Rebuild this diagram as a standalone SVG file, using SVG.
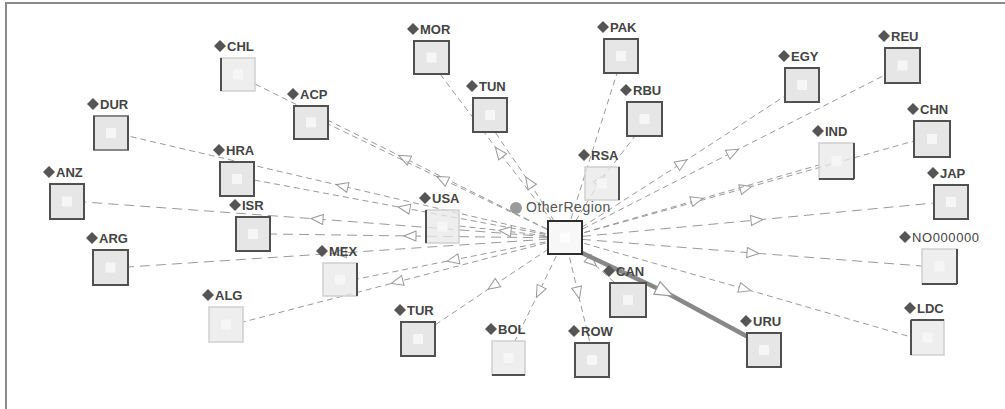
<svg xmlns="http://www.w3.org/2000/svg" width="1005" height="409" viewBox="0 0 1005 409">
<style>
.frame{fill:#fff;stroke:#8a8a8a;stroke-width:2}
.e{fill:none;stroke:#9a9a9a;stroke-width:1;stroke-dasharray:6 4;marker-mid:url(#arr)}
.e2{fill:none;stroke:#9a9a9a;stroke-width:1;stroke-dasharray:10 6;marker-mid:url(#arr)}
.thick{fill:none;stroke:#888;stroke-width:4.5;marker-mid:url(#arrB)}
.box{fill:#e6e6e6;stroke:#505050;stroke-width:2}
.lbox{fill:#e8e8e8;fill-opacity:0.75;stroke:#cfcfcf;stroke-width:1.5}
.dk{stroke:#505050;stroke-width:2}
.in{fill:#f6f6f6}
.dia{fill:#555}
.lab{font-family:"Liberation Sans",Arial,sans-serif;font-size:13px;font-weight:bold;fill:#444}
.olab{font-family:"Liberation Sans",Arial,sans-serif;font-size:14px;fill:#555;letter-spacing:0.5px}
</style>
<defs>
<marker id="arr" markerUnits="userSpaceOnUse" viewBox="0 0 14 12" markerWidth="14" markerHeight="12" refX="7" refY="6" orient="auto">
<path d="M1,1 L13,6 L1,11 Z" fill="#fff" stroke="#999" stroke-width="1"/>
</marker>
<marker id="arrB" markerUnits="userSpaceOnUse" viewBox="0 0 20 16" markerWidth="20" markerHeight="16" refX="10" refY="8" orient="auto">
<path d="M1,1 L19,8 L1,15 Z" fill="#fff" stroke="#999" stroke-width="1.2"/>
</marker>
</defs>
<rect class="frame" x="6" y="3" width="1010" height="420"/>

<g id="connectors">
<path class="e" d="M565,238 L404,158 L255,84"/>
<path class="e" d="M565,238 L342,186 L128,136"/>
<path class="e2" d="M565,238 L317,219 L84,202"/>
<path class="e" d="M565,238 L404,208 L254,180"/>
<path class="e2" d="M565,238 L410,236 L270,234"/>
<path class="e2" d="M565,238 L340,253 L128,267"/>
<path class="e" d="M565,238 L397,282 L243,322"/>
<path class="e" d="M565,238 L442,179 L328,124"/>
<path class="e" d="M565,238 L499,152 L440,74"/>
<path class="e" d="M565,238 L529,182 L495,132"/>
<path class="e" d="M565,238 L617,73" style="marker-mid:none"/>
<path class="e" d="M565,238 L601,180 L635,136"/>
<path class="e" d="M565,238 L682,163 L785,96"/>
<path class="e" d="M565,238 L733,152 L885,75"/>
<path class="e" d="M565,238 L746,188 L914,141"/>
<path class="e" d="M565,238 L697,200 L819,165"/>
<path class="e2" d="M565,238 L757,220 L934,203"/>
<path class="e2" d="M565,238 L753,253 L922,266"/>
<path class="e" d="M565,238 L745,289 L911,337"/>
<path class="e" d="M565,238 L592,262 L615,283"/>
<path class="e" d="M565,238 L578,293 L590,343"/>
<path class="e" d="M565,238 L539,292 L515,341"/>
<path class="e" d="M565,238 L493,286 L435,325"/>
<path class="e" d="M565,238 L453,260 L357,279"/>
<path class="e" d="M565,238 L505,231 L459,226"/>
<path class="thick" d="M580,252 L665,292 L750,338"/>
</g>

<g id="n-CHL" transform="translate(221,58)"><rect class="lbox" width="34" height="33"/><line class="dk" x1="0" y1="0" x2="0" y2="33"/><rect class="in" x="12" y="11.5" width="10" height="10"/><path class="dia" d="M-1,-18 l6,6 -6,6 -6,-6z"/><text class="lab" x="6" y="-7">CHL</text></g>
<g id="n-DUR" transform="translate(94,116)"><rect class="box" width="34" height="34" style="stroke:#888"/><line class="dk" x1="0" y1="0" x2="0" y2="34"/><line class="dk" x1="34" y1="0" x2="34" y2="34"/><rect class="in" x="12" y="12" width="10" height="10"/><path class="dia" d="M-1,-18 l6,6 -6,6 -6,-6z"/><text class="lab" x="6" y="-7">DUR</text></g>
<g id="n-ANZ" transform="translate(50,184)"><rect class="box" width="34" height="35"/><rect class="in" x="12" y="12.5" width="10" height="10"/><path class="dia" d="M-1,-18 l6,6 -6,6 -6,-6z"/><text class="lab" x="6" y="-7">ANZ</text></g>
<g id="n-HRA" transform="translate(220,162)"><rect class="box" width="34" height="34"/><rect class="in" x="12" y="12" width="10" height="10"/><path class="dia" d="M-1,-18 l6,6 -6,6 -6,-6z"/><text class="lab" x="6" y="-7">HRA</text></g>
<g id="n-ISR" transform="translate(236,217)"><rect class="box" width="34" height="34"/><rect class="in" x="12" y="12" width="10" height="10"/><path class="dia" d="M-1,-18 l6,6 -6,6 -6,-6z"/><text class="lab" x="6" y="-7">ISR</text></g>
<g id="n-ARG" transform="translate(93,250)"><rect class="box" width="35" height="35"/><rect class="in" x="12.5" y="12.5" width="10" height="10"/><path class="dia" d="M-1,-18 l6,6 -6,6 -6,-6z"/><text class="lab" x="6" y="-7">ARG</text></g>
<g id="n-ALG" transform="translate(209,307)"><rect class="lbox" width="34" height="35"/><rect class="in" x="12" y="12.5" width="10" height="10"/><path class="dia" d="M-1,-18 l6,6 -6,6 -6,-6z"/><text class="lab" x="6" y="-7">ALG</text></g>
<g id="n-ACP" transform="translate(294,106)"><rect class="box" width="34" height="33"/><rect class="in" x="12" y="11.5" width="10" height="10"/><path class="dia" d="M-1,-18 l6,6 -6,6 -6,-6z"/><text class="lab" x="6" y="-7">ACP</text></g>
<g id="n-MOR" transform="translate(414,41)"><rect class="box" width="35" height="33"/><rect class="in" x="12.5" y="11.5" width="10" height="10"/><path class="dia" d="M-1,-18 l6,6 -6,6 -6,-6z"/><text class="lab" x="6" y="-7">MOR</text></g>
<g id="n-TUN" transform="translate(473,98)"><rect class="box" width="34" height="34"/><rect class="in" x="12" y="12" width="10" height="10"/><path class="dia" d="M-1,-18 l6,6 -6,6 -6,-6z"/><text class="lab" x="6" y="-7">TUN</text></g>
<g id="n-USA" transform="translate(426,210)"><rect class="lbox" width="33" height="33"/><line class="dk" x1="0" y1="0" x2="0" y2="33"/><rect class="in" x="11.5" y="11.5" width="10" height="10"/><path class="dia" d="M-1,-18 l6,6 -6,6 -6,-6z"/><text class="lab" x="6" y="-7">USA</text></g>
<g id="n-MEX" transform="translate(323,263)"><rect class="lbox" width="34" height="33"/><line class="dk" x1="34" y1="0" x2="34" y2="33"/><rect class="in" x="12" y="11.5" width="10" height="10"/><path class="dia" d="M-1,-18 l6,6 -6,6 -6,-6z"/><text class="lab" x="6" y="-7">MEX</text></g>
<g id="n-TUR" transform="translate(401,322)"><rect class="box" width="34" height="34"/><rect class="in" x="12" y="12" width="10" height="10"/><path class="dia" d="M-1,-18 l6,6 -6,6 -6,-6z"/><text class="lab" x="6" y="-7">TUR</text></g>
<g id="n-BOL" transform="translate(492,341)"><rect class="lbox" width="33" height="34"/><line class="dk" x1="0" y1="34" x2="33" y2="34"/><rect class="in" x="11.5" y="12" width="10" height="10"/><path class="dia" d="M-1,-18 l6,6 -6,6 -6,-6z"/><text class="lab" x="6" y="-7">BOL</text></g>
<g id="n-ROW" transform="translate(575,343)"><rect class="box" width="34" height="34"/><rect class="in" x="12" y="12" width="10" height="10"/><path class="dia" d="M-1,-18 l6,6 -6,6 -6,-6z"/><text class="lab" x="6" y="-7">ROW</text></g>
<g id="n-PAK" transform="translate(604,39)"><rect class="box" width="34" height="34"/><rect class="in" x="12" y="12" width="10" height="10"/><path class="dia" d="M-1,-18 l6,6 -6,6 -6,-6z"/><text class="lab" x="6" y="-7">PAK</text></g>
<g id="n-RBU" transform="translate(627,102)"><rect class="box" width="35" height="34"/><rect class="in" x="12.5" y="12" width="10" height="10"/><path class="dia" d="M-1,-18 l6,6 -6,6 -6,-6z"/><text class="lab" x="6" y="-7">RBU</text></g>
<g id="n-RSA" transform="translate(585,167)"><rect class="lbox" width="34" height="33"/><line class="dk" x1="34" y1="0" x2="34" y2="33"/><rect class="in" x="12" y="11.5" width="10" height="10"/><path class="dia" d="M-1,-18 l6,6 -6,6 -6,-6z"/><text class="lab" x="6" y="-7">RSA</text></g>
<g id="n-EGY" transform="translate(785,68)"><rect class="box" width="34" height="34"/><rect class="in" x="12" y="12" width="10" height="10"/><path class="dia" d="M-1,-18 l6,6 -6,6 -6,-6z"/><text class="lab" x="6" y="-7">EGY</text></g>
<g id="n-REU" transform="translate(885,48)"><rect class="box" width="35" height="35"/><rect class="in" x="12.5" y="12.5" width="10" height="10"/><path class="dia" d="M-1,-18 l6,6 -6,6 -6,-6z"/><text class="lab" x="6" y="-7">REU</text></g>
<g id="n-CHN" transform="translate(914,121)"><rect class="box" width="36" height="36"/><rect class="in" x="13" y="13" width="10" height="10"/><path class="dia" d="M-1,-18 l6,6 -6,6 -6,-6z"/><text class="lab" x="6" y="-7">CHN</text></g>
<g id="n-IND" transform="translate(819,143)"><rect class="lbox" width="35" height="36"/><line class="dk" x1="35" y1="0" x2="35" y2="36"/><line class="dk" x1="0" y1="36" x2="35" y2="36"/><rect class="in" x="12.5" y="13" width="10" height="10"/><path class="dia" d="M-1,-18 l6,6 -6,6 -6,-6z"/><text class="lab" x="6" y="-7">IND</text></g>
<g id="n-JAP" transform="translate(934,185)"><rect class="box" width="34" height="34"/><rect class="in" x="12" y="12" width="10" height="10"/><path class="dia" d="M-1,-18 l6,6 -6,6 -6,-6z"/><text class="lab" x="6" y="-7">JAP</text></g>
<g id="n-NO000000" transform="translate(922,249)"><rect class="lbox" width="35" height="35"/><line class="dk" x1="35" y1="0" x2="35" y2="35"/><line class="dk" x1="0" y1="35" x2="35" y2="35"/><rect class="in" x="12.5" y="12.5" width="10" height="10"/><path class="dia" d="M-17,-18 l6,6 -6,6 -6,-6z"/><text class="lab" x="-10" y="-7" style="letter-spacing:0.6px;font-weight:normal">NO000000</text></g>
<g id="n-LDC" transform="translate(911,320)"><rect class="lbox" width="33" height="35"/><line class="dk" x1="0" y1="0" x2="0" y2="35"/><line class="dk" x1="0" y1="0" x2="33" y2="0"/><rect class="in" x="11.5" y="12.5" width="10" height="10"/><path class="dia" d="M-1,-18 l6,6 -6,6 -6,-6z"/><text class="lab" x="6" y="-7">LDC</text></g>
<g id="n-CAN" transform="translate(610,283)"><rect class="box" width="36" height="34"/><rect class="in" x="13" y="12" width="10" height="10"/><path class="dia" d="M-1,-18 l6,6 -6,6 -6,-6z"/><text class="lab" x="6" y="-7">CAN</text></g>
<g id="n-URU" transform="translate(747,333)"><rect class="box" width="34" height="34"/><rect class="in" x="12" y="12" width="10" height="10"/><path class="dia" d="M-1,-18 l6,6 -6,6 -6,-6z"/><text class="lab" x="6" y="-7">URU</text></g>
<g id="n-OtherRegion" transform="translate(548,221)"><rect width="34" height="33" fill="#f7f7f7" stroke="#2e2e2e" stroke-width="2"/><rect x="12" y="11.5" width="10" height="10" fill="#fdfdfd"/><circle cx="-32" cy="-13" r="6" fill="#9a9a9a"/><text class="olab" x="-22" y="-9">OtherRegion</text></g>
</svg>
